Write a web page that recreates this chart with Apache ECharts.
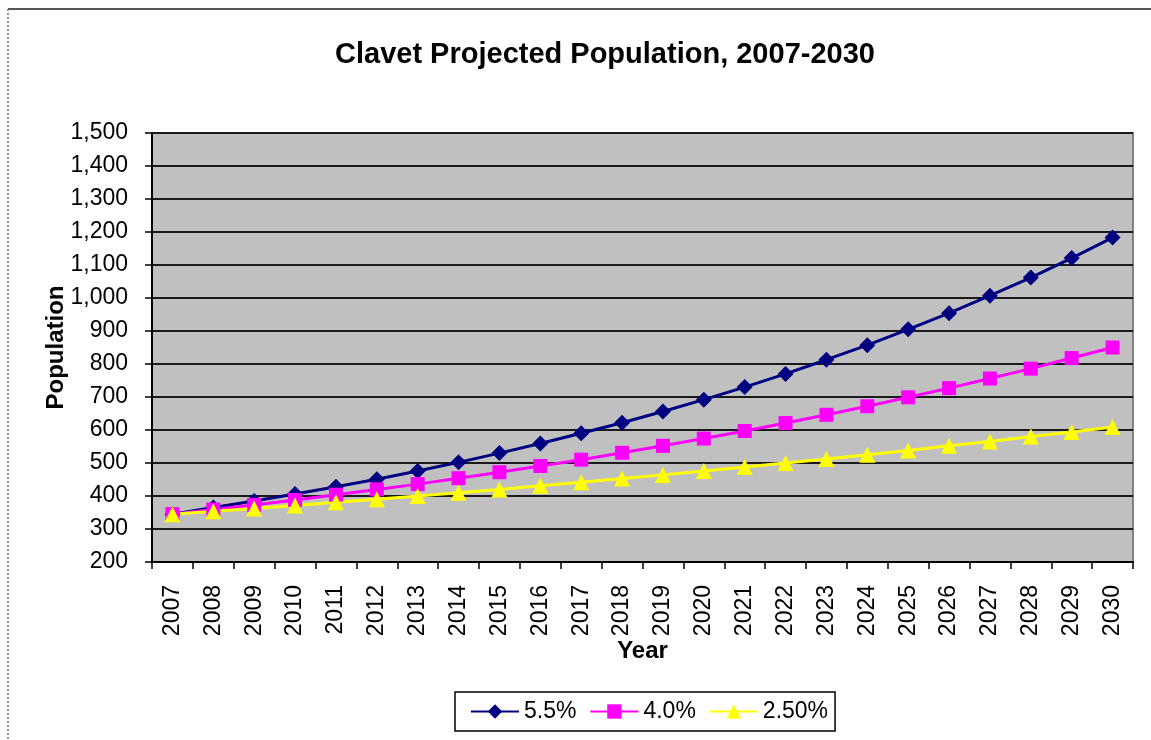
<!DOCTYPE html>
<html>
<head>
<meta charset="utf-8">
<title>Clavet Projected Population</title>
<script src="https://cdn.jsdelivr.net/npm/echarts@6/dist/echarts.min.js"></script>
<style>
  html, body { margin: 0; padding: 0; background: #fff; }
  #chart { width: 1151px; height: 740px; }
</style>
</head>
<body>
<div id="chart"></div>
<script>
// years on the x axis
const years = ['2007', '2008', '2009', '2010', '2011', '2012', '2013', '2014', '2015', '2016', '2017', '2018',
  '2019', '2020', '2021', '2022', '2023', '2024', '2025', '2026', '2027', '2028', '2029', '2030'];

// projected population
const growth55 = [345, 365, 385, 406, 428, 451, 476, 502, 530, 559, 590, 622,
  656, 692, 730, 770, 813, 857, 905, 954, 1007, 1062, 1121, 1183];
const growth40 = [345, 359, 373, 388, 404, 420, 436, 454, 472, 491, 510, 531,
  552, 574, 597, 621, 646, 672, 699, 727, 756, 786, 818, 850];
const growth25 = [345, 354, 362, 371, 381, 390, 400, 410, 420, 431, 442, 453,
  464, 476, 488, 500, 512, 525, 538, 552, 565, 580, 594, 609];

const seriesNames = ['5.5%', '4.0%', '2.50%'];

const FONT = '"Liberation Sans", Arial, sans-serif';

const chart = echarts.init(document.getElementById('chart'));

const lineSeries = (name, data, color, symbol, size) => ({
  name,
  type: 'line',
  data,
  symbol,
  symbolSize: size,
  showSymbol: true,
  animation: false,
  lineStyle: { color, width: 3 },
  itemStyle: { color, borderWidth: 0 },
  z: 3,
});

chart.setOption({
  backgroundColor: '#ffffff',
  animation: false,
  title: {
    text: 'Clavet Projected Population, 2007-2030',
    left: 330,
    top: 35,
    textStyle: { fontFamily: FONT, fontSize: 29, fontWeight: 'bold', color: '#000' },
  },
  legend: {
    data: seriesNames,
    left: 455,
    top: 692,
    orient: 'horizontal',
    itemWidth: 48,
    itemHeight: 18,
    itemGap: 13,
    padding: [8, 7, 8, 15],
    borderColor: '#000',
    borderWidth: 1.5,
    backgroundColor: '#fff',
    textStyle: { fontFamily: FONT, fontSize: 23, color: '#000' },
  },
  grid: {
    left: 152,
    right: 18,
    top: 133,
    bottom: 178,
    show: true,
    backgroundColor: '#c0c0c0',
    borderColor: '#808080',
    borderWidth: 2,
  },
  xAxis: {
    type: 'category',
    data: years,
    boundaryGap: true,
    name: 'Year',
    nameLocation: 'middle',
    nameGap: 77,
    nameMoveOverlap: false,
    nameTextStyle: { fontFamily: FONT, fontSize: 24, fontWeight: 'bold', color: '#000' },
    axisLine: { lineStyle: { color: '#000', width: 2 } },
    axisTick: { show: true, inside: false, length: 7, alignWithLabel: false, lineStyle: { color: '#000', width: 1.5 } },
    axisLabel: { rotate: 90, margin: 23, interval: 0, fontFamily: FONT, fontSize: 23, color: '#000' },
    splitLine: { show: false },
  },
  yAxis: {
    type: 'value',
    min: 200,
    max: 1500,
    interval: 100,
    name: 'Population',
    nameLocation: 'middle',
    nameRotate: 90,
    nameGap: 84,
    nameMoveOverlap: false,
    nameTextStyle: { fontFamily: FONT, fontSize: 24, fontWeight: 'bold', color: '#000' },
    axisLine: { show: true, lineStyle: { color: '#000', width: 2 } },
    axisTick: { show: true, inside: false, length: 7, lineStyle: { color: '#000', width: 1.5 } },
    axisLabel: {
      margin: 24,
      fontFamily: FONT,
      fontSize: 23,
      color: '#000',
      formatter: (v) => v.toLocaleString('en-US'),
    },
    splitLine: { show: true, lineStyle: { color: '#1a1a1a', width: 2 } },
  },
  graphic: [
    // frame of the pasted picture: top rule and dotted left edge
    { type: 'line', shape: { x1: 8, y1: 9, x2: 1151, y2: 9 }, style: { stroke: '#555', lineWidth: 2 }, silent: true },
    { type: 'line', shape: { x1: 8, y1: 9, x2: 8, y2: 740 }, style: { stroke: '#777', lineWidth: 1.5, lineDash: [2, 2] }, silent: true },
  ],
  series: [
    lineSeries(seriesNames[0], growth55, '#000080', 'diamond', 16),
    lineSeries(seriesNames[1], growth40, '#ff00ff', 'rect', 14),
    lineSeries(seriesNames[2], growth25, '#ffff00', 'triangle', 16),
  ],
});
</script>
</body>
</html>
